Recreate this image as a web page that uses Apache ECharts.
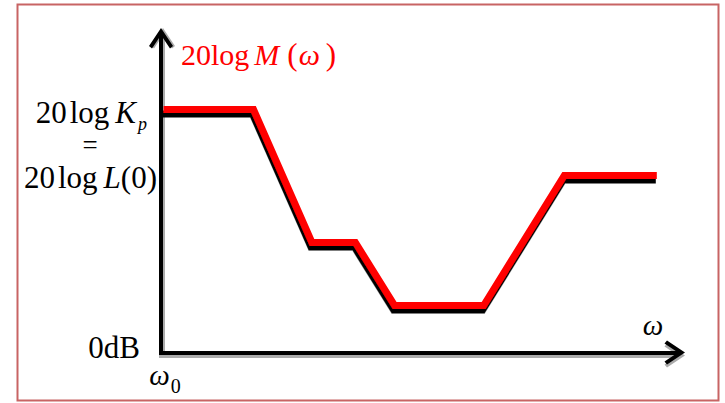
<!DOCTYPE html>
<html>
<head>
<meta charset="utf-8">
<script src="https://cdn.jsdelivr.net/npm/echarts@6/dist/echarts.min.js"></script>
<style>
  html, body { margin: 0; padding: 0; background: #fff; }
  #chart { width: 725px; height: 403px; }
</style>
</head>
<body>
<div id="chart"></div>
<script>
// Asymptotic Bode magnitude sketch: corner frequencies and dB levels (arbitrary units)
const omega = [0.5, 17.9, 29.2, 37.6, 45.2, 62.4, 78.0, 95.9];
const magnitudeDb = [48.6, 48.6, 22, 22, 9.4, 9.4, 35.4, 35.4];

// Axis ticks that carry a label
const zeroLevel = [0];
const lowFreqLevel = [magnitudeDb[0]];
const originFreq = [0];

const SERIF = '"Liberation Serif", "Times New Roman", serif';

// Open chevron used as the arrow head of both axes (points up before rotation)
const chevron = 'path://M12,0 L24,18 L21,20.5 L12,7 L3,20.5 L0,18 Z';

const X_RANGE = { min: 0, max: 100 };
const Y_RANGE = { min: 0, max: 63.5 };

const chart = echarts.init(document.getElementById('chart'), null, { renderer: 'svg' });

// Axis line with chevron head
function axisLine(color) {
  return {
    show: true,
    onZero: false,
    lineStyle: { color: color, width: 4, cap: 'square' },
    symbol: ['none', chevron],
    symbolSize: [24, 20.5],
    symbolOffset: [0, -3.25]
  };
}

const hidden = { axisTick: { show: false }, splitLine: { show: false } };

chart.setOption({
  animation: false,
  backgroundColor: '#fff',
  grid: { left: 161, right: 47, top: 35, bottom: 50.5, outerBoundsMode: 'none' },
  xAxis: [
    {
      // soft grey drop shadow under the frequency axis
      type: 'value', ...X_RANGE, position: 'bottom', offset: 3, z: 0,
      axisLine: axisLine('#ababab'),
      axisLabel: { show: false },
      ...hidden
    },
    {
      type: 'value', ...X_RANGE, position: 'bottom', offset: 0, z: 1,
      axisLine: axisLine('#000'),
      ...hidden,
      name: '{w|ω}',
      nameLocation: 'end',
      nameGap: -25,
      nameMoveOverlap: false,
      nameTextStyle: {
        align: 'center', verticalAlign: 'middle',
        rich: { w: { fontFamily: SERIF, fontStyle: 'italic', fontSize: 29, color: '#000', padding: [0, 0, 55, 0] } }
      },
      axisLabel: {
        customValues: originFreq,
        margin: 7.5,
        lineHeight: 30,
        formatter: () => '{w|ω}{s|0}',
        rich: {
          w: { fontFamily: SERIF, fontStyle: 'italic', fontSize: 29, color: '#000', padding: [0, 0, 0, 8] },
          s: { fontFamily: SERIF, fontSize: 20, color: '#000', padding: [22, 0, 0, 1] }
        }
      }
    }
  ],
  yAxis: [
    {
      // soft grey drop shadow beside the magnitude axis
      type: 'value', ...Y_RANGE, position: 'left', offset: -2, z: 0,
      axisLine: axisLine('#ababab'),
      axisLabel: { show: false },
      ...hidden
    },
    {
      type: 'value', ...Y_RANGE, position: 'left', offset: 0, z: 1,
      axisLine: axisLine('#000'),
      ...hidden,
      name: '{n|20}{l|log}{m|M}{p|(}{w|ω}{q|)}',
      nameLocation: 'end',
      nameGap: -19,
      nameMoveOverlap: false,
      nameTextStyle: {
        align: 'left', verticalAlign: 'middle', padding: [0, 0, 0, 20],
        rich: {
          n: { fontFamily: SERIF, fontSize: 30, color: '#ff0000' },
          l: { fontFamily: SERIF, fontSize: 30, color: '#ff0000' },
          m: { fontFamily: SERIF, fontStyle: 'italic', fontSize: 30, color: '#ff0000', padding: [0, 8, 0, 5] },
          p: { fontFamily: SERIF, fontSize: 31, color: '#ff0000' },
          w: { fontFamily: SERIF, fontStyle: 'italic', fontSize: 30, color: '#ff0000', padding: [0, 0, 0, 1] },
          q: { fontFamily: SERIF, fontSize: 31, color: '#ff0000', padding: [0, 0, 0, 6] }
        }
      },
      axisLabel: {
        customValues: zeroLevel,
        margin: 21,
        formatter: () => '{z|0dB}',
        rich: {
          z: { fontFamily: SERIF, fontSize: 31, color: '#000', padding: [0, 0, 10.6, 0] }
        }
      }
    },
    {
      type: 'value', ...Y_RANGE, position: 'left', offset: 0,
      axisLine: { show: false },
      ...hidden,
      axisLabel: {
        customValues: lowFreqLevel,
        margin: 4,
        lineHeight: 32.5,
        padding: [71, 0, 0, 0],
        formatter: () => '{n|20}{l|log}{i|K}{p|p}\n{e|=}\n{n|20}{l|log}{i|L}{n|(0)}',
        rich: {
          n: { fontFamily: SERIF, fontSize: 31, color: '#000' },
          l: { fontFamily: SERIF, fontSize: 31, color: '#000', padding: [0, 6, 0, 3] },
          i: { fontFamily: SERIF, fontStyle: 'italic', fontSize: 31, color: '#000' },
          p: { fontFamily: SERIF, fontStyle: 'italic', fontSize: 18, color: '#000', padding: [23, 10, 0, 2] },
          e: { fontFamily: SERIF, fontSize: 27, color: '#000', padding: [0, 59.4, 0, 0] }
        }
      }
    }
  ],
  series: [
    {
      type: 'line',
      xAxisIndex: 1,
      yAxisIndex: 1,
      data: omega.map((w, k) => [w, magnitudeDb[k]]),
      showSymbol: false,
      silent: true,
      z: 2,
      lineStyle: {
        color: '#ff0000',
        width: 7,
        join: 'miter',
        cap: 'butt',
        shadowColor: '#000',
        shadowBlur: 0,
        shadowOffsetX: -1,
        shadowOffsetY: 4.5
      }
    }
  ],
  graphic: [
    {
      type: 'rect',
      silent: true,
      shape: { x: 17.5, y: 4.5, width: 701, height: 396 },
      style: { fill: 'none', stroke: '#c86464', lineWidth: 2 }
    }
  ]
});
</script>
</body>
</html>
